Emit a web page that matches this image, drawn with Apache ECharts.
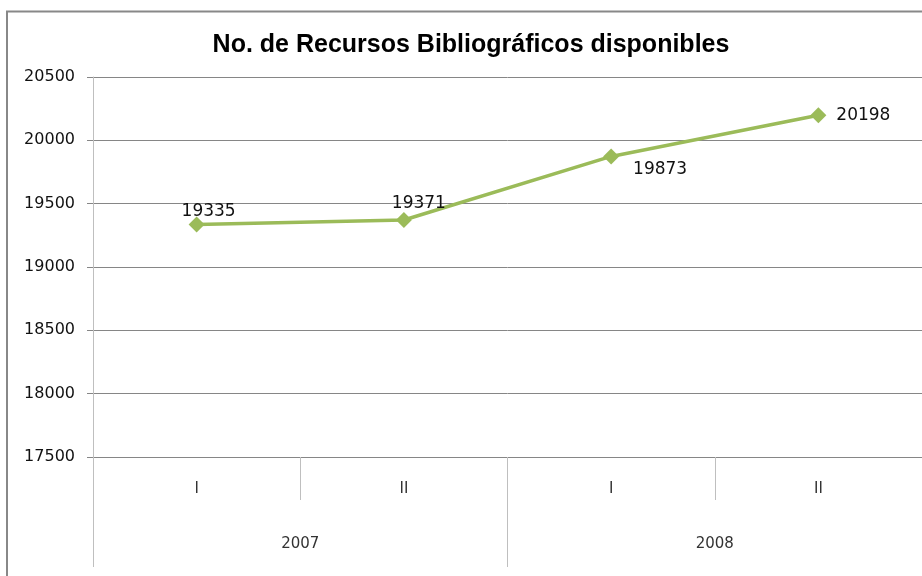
<!DOCTYPE html>
<html>
<head>
<meta charset="utf-8">
<script src="https://cdn.jsdelivr.net/npm/echarts@6/dist/echarts.min.js"></script>
<style>
  html, body { margin: 0; padding: 0; background: #fff; }
  #chart { width: 922px; height: 576px; }
</style>
</head>
<body>
<div id="chart"></div>
<script>
// datos
const semestres = ['I', 'II', 'I', 'II'];
const anios = ['2007', '2008'];
const recursos = [19335, 19371, 19873, 20198];
const yTicks = [17500, 18000, 18500, 19000, 19500, 20000, 20500];

// desplazamiento de cada etiqueta respecto al marcador
const labelOffsets = [[12, -13], [15, -16], [49, 13], [45, 0]];

const chart = echarts.init(document.getElementById('chart'));

const options = {
  backgroundColor: '#fff',
  animation: false,
  title: {
    text: 'No. de Recursos Bibliográficos disponibles',
    left: 466,
    top: 28,
    textAlign: 'center',
    textStyle: {
      fontFamily: 'Liberation Sans',
      fontWeight: 'bold',
      fontSize: 25,
      color: '#000'
    }
  },
  graphic: [{
    type: 'rect',
    shape: { x: 7, y: 11.5, width: 1000, height: 1000 },
    style: { fill: 'none', stroke: '#888', lineWidth: 2 },
    silent: true
  }],
  grid: {
    top: 77,
    left: 93,
    right: -6,
    bottom: 119
  },
  xAxis: [
    {
      type: 'category',
      data: semestres,
      boundaryGap: true,
      axisLine: { show: true, lineStyle: { color: '#868686', width: 1 } },
      axisTick: { show: true, length: 43, interval: 0, lineStyle: { color: '#BFBFBF' } },
      axisLabel: {
        margin: 25,
        interval: 0,
        fontFamily: 'DejaVu Sans',
        fontSize: 15,
        color: '#333'
      }
    },
    {
      type: 'category',
      data: anios,
      position: 'bottom',
      boundaryGap: true,
      axisLine: { show: false },
      axisTick: { show: true, length: 110, interval: 0, lineStyle: { color: '#BFBFBF' } },
      axisLabel: {
        margin: 80,
        interval: 0,
        fontFamily: 'DejaVu Sans',
        fontSize: 15,
        color: '#333'
      }
    }
  ],
  yAxis: {
    type: 'value',
    min: yTicks[0],
    max: yTicks[yTicks.length - 1],
    interval: 500,
    axisLine: { show: true, lineStyle: { color: '#BFBFBF' } },
    axisTick: { show: true, length: 6, lineStyle: { color: '#868686' } },
    axisLabel: {
      margin: 18,
      fontFamily: 'DejaVu Sans',
      fontSize: 16,
      color: '#111',
      formatter: v => String(v)
    },
    splitLine: { lineStyle: { color: '#868686', width: 1 } }
  },
  series: [{
    type: 'line',
    xAxisIndex: 0,
    data: recursos.map((v, i) => ({
      value: v,
      label: { offset: labelOffsets[i] }
    })),
    symbol: 'diamond',
    symbolSize: 16,
    lineStyle: { color: '#9BBB59', width: 3.5 },
    itemStyle: { color: '#9BBB59' },
    label: {
      show: true,
      position: 'inside',
      fontFamily: 'DejaVu Sans',
      fontSize: 17,
      color: '#111'
    }
  }]
};

chart.setOption(options, true);
</script>
</body>
</html>
